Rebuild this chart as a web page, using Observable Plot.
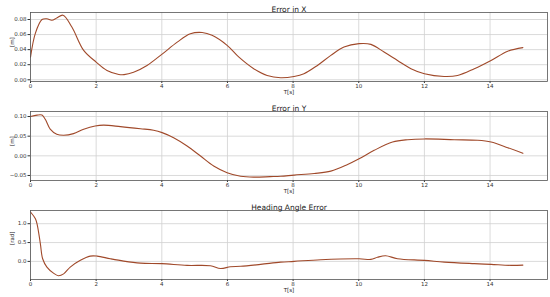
<!DOCTYPE html>
<html>
<head>
<meta charset="utf-8">
<script src="https://cdn.jsdelivr.net/npm/d3@7"></script>
<script src="https://cdn.jsdelivr.net/npm/@observablehq/plot@0.6"></script>
<style>
  html, body { margin: 0; padding: 0; background: #fff; }
  #chart svg { display: block; }
</style>
</head>
<body>
<div id="chart"></div>
<script>
const titles = ["Error in X", "Error in Y", "Heading Angle Error"];
const yLabels = ["[m]", "[m]", "[rad]"];
const xTicks = [0, 2, 4, 6, 8, 10, 12, 14];

const tX = [0, 0.15, 0.35, 0.5, 0.65, 0.8, 0.99, 1.26, 1.62, 2.0, 2.33, 2.69, 2.85, 3.14, 3.55, 4.0, 4.47, 4.87, 5.23, 5.53, 5.99, 6.35, 6.8, 7.21, 7.62, 8.03, 8.33, 8.74, 9.15, 9.55, 10.01, 10.37, 10.77, 11.18, 11.59, 12.0, 12.6, 13.01, 13.52, 14.03, 14.54, 15.0];
const errX = [0.030, 0.062, 0.080, 0.081, 0.079, 0.082, 0.0857, 0.070, 0.039, 0.0235, 0.0124, 0.0071, 0.0068, 0.010, 0.019, 0.0337, 0.050, 0.061, 0.0627, 0.059, 0.0457, 0.030, 0.0147, 0.0057, 0.0027, 0.0044, 0.008, 0.019, 0.0324, 0.0435, 0.048, 0.047, 0.0368, 0.0257, 0.0147, 0.008, 0.0044, 0.0057, 0.0147, 0.0257, 0.038, 0.0427];

const tY = [0, 0.2, 0.35, 0.45, 0.6, 0.8, 1.01, 1.31, 1.62, 1.97, 2.23, 2.74, 3.35, 3.75, 4.01, 4.36, 4.77, 5.18, 5.58, 5.99, 6.4, 6.8, 7.3, 7.62, 8.03, 8.64, 9.15, 9.66, 10.01, 10.47, 11.03, 11.49, 12.0, 12.91, 13.62, 14.03, 14.54, 15.0];
const errY = [0.100, 0.1036, 0.1036, 0.093, 0.068, 0.055, 0.0524, 0.0565, 0.0677, 0.076, 0.078, 0.0744, 0.069, 0.065, 0.059, 0.046, 0.025, -0.0006, -0.026, -0.043, -0.052, -0.0543, -0.053, -0.052, -0.049, -0.045, -0.039, -0.022, -0.0075, 0.014, 0.035, 0.041, 0.043, 0.041, 0.0395, 0.035, 0.0207, 0.0063];

const tH = [0, 0.15, 0.21, 0.3, 0.37, 0.5, 0.7, 0.85, 1.01, 1.21, 1.52, 1.82, 2.03, 2.43, 2.84, 3.35, 4.0, 4.77, 5.48, 5.79, 6.09, 6.4, 7.01, 7.62, 8.03, 8.84, 10.01, 10.37, 10.57, 10.82, 11.18, 12.0, 12.61, 13.52, 14.03, 14.64, 15.0];
const errH = [1.31, 1.13, 0.95, 0.47, 0.07, -0.15, -0.31, -0.38, -0.33, -0.15, 0.03, 0.14, 0.14, 0.07, 0.008, -0.045, -0.06, -0.106, -0.115, -0.19, -0.14, -0.13, -0.08, -0.02, 0.0, 0.045, 0.07, 0.053, 0.11, 0.15, 0.07, 0.027, -0.018, -0.06, -0.08, -0.106, -0.098];

const yTicks = [[0, 0.02, 0.04, 0.06, 0.08], [-0.05, 0, 0.05, 0.10], [0, 0.5, 1.0]];
const yDomains = [[-0.0023, 0.0893], [-0.0628, 0.1128], [-0.48, 1.35]];
const yFormats = [".2f", ".2f", ".1f"];

const series = [[tX, errX], [tY, errY], [tH, errH]];
const lineColor = "#a0492a";

const chart = document.getElementById("chart");
series.forEach(([ts, vs], i) => {
  const data = ts.map((t, k) => ({t, v: vs[k]}));
  const p = Plot.plot({
    width: 550,
    height: 99,
    marginLeft: 30,
    marginRight: 3,
    marginTop: 12,
    marginBottom: 18,
    style: {fontFamily: "DejaVu Sans, sans-serif", fontSize: "5.5px", color: "#333", background: "#fff"},
    x: {domain: [0, 15.75], ticks: xTicks, tickSize: 2, tickPadding: 1, label: null, tickFormat: d3.format("d")},
    y: {domain: yDomains[i], ticks: yTicks[i], tickSize: 2.5, tickPadding: 1.5, label: null, tickFormat: d3.format(yFormats[i])},
    marks: [
      Plot.gridX(xTicks, {stroke: "#d0d0d0", strokeOpacity: 1, strokeWidth: 0.8}),
      Plot.gridY(yTicks[i], {stroke: "#d0d0d0", strokeOpacity: 1, strokeWidth: 0.8}),
      Plot.line(data, {x: "t", y: "v", stroke: lineColor, strokeWidth: 1.1, curve: "catmull-rom"}),
      Plot.frame({stroke: "#555", strokeWidth: 0.8}),
      Plot.text([titles[i]], {frameAnchor: "top", dy: -6, fontSize: 7.5, fill: "#222"}),
      Plot.text(["T[s]"], {frameAnchor: "bottom", dy: 12.5, fontSize: 5.5, fill: "#222"}),
      Plot.text([yLabels[i]], {frameAnchor: "left", dx: -18, rotate: -90, fontSize: 5.5, fill: "#222"})
    ]
  });
  chart.appendChild(p);
});
</script>
</body>
</html>
